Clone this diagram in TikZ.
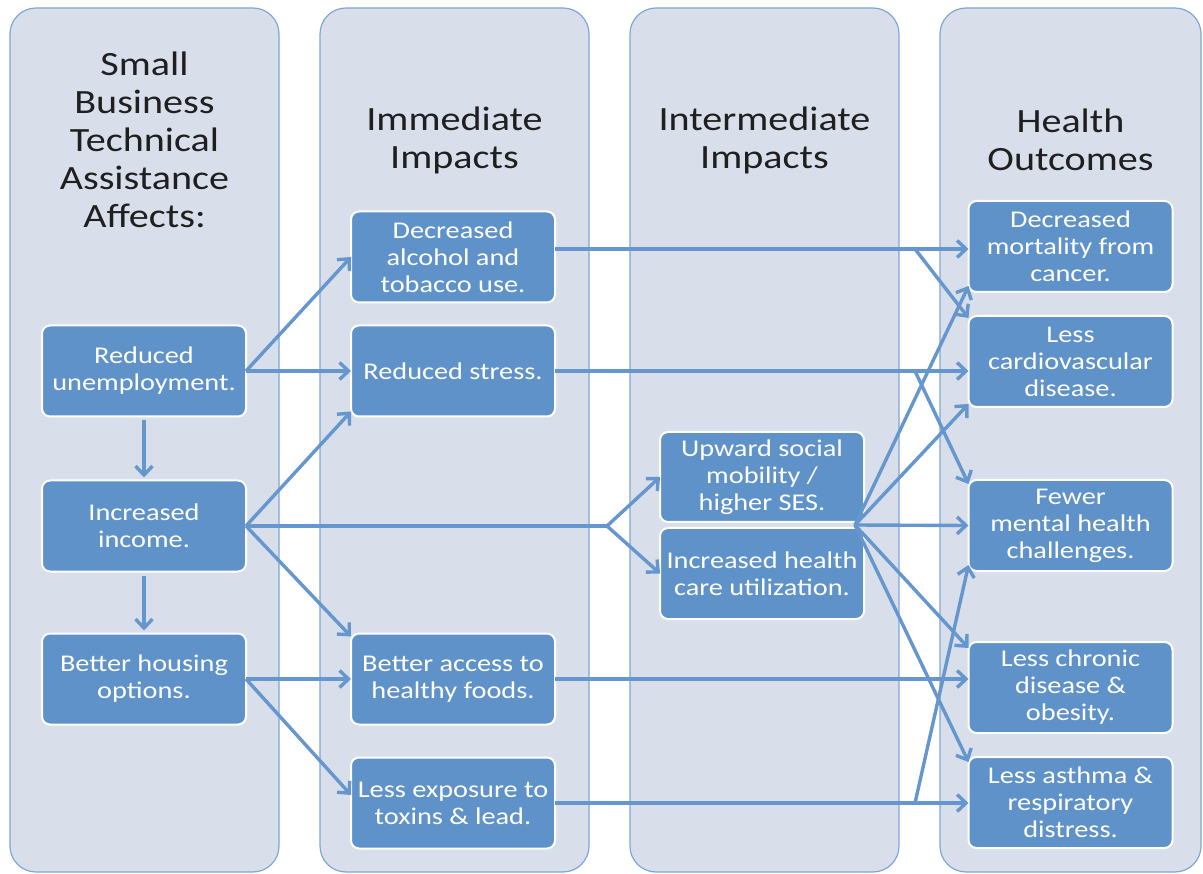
\documentclass[tikz,border=0pt]{standalone}
\usepackage{fontspec}
\setmainfont[FakeStretch=1.18]{Carlito}
\usetikzlibrary{positioning,arrows.meta,calc}
\definecolor{colfill}{RGB}{216,223,235}
\definecolor{colline}{RGB}{126,166,214}
\definecolor{boxfill}{RGB}{94,146,201}
\definecolor{linkblue}{RGB}{101,151,206}
\tikzstyle{column}=[rectangle,rounded corners=26pt,draw=colline,line width=1.2pt,
fill=colfill,minimum width=269pt,minimum height=864pt,inner sep=0pt,outer sep=0pt]
\tikzstyle{heading}=[align=center,text=black!88,font=\fontsize{34}{38}\selectfont]
\tikzstyle{effect}=[rectangle,rounded corners=8pt,draw=white,line width=2pt,
fill=boxfill,text=white,align=center,minimum width=204pt,minimum height=91pt,
inner sep=0pt,outer sep=0pt,font=\fontsize{24}{27}\selectfont]
\tikzstyle{link}=[color=linkblue,line width=3.4pt,-{Straight Barb[length=9pt,width=17pt]}]

\begin{document}
\begin{tikzpicture}[x=1pt,y=-1pt]
            \useasboundingbox (0,0) rectangle (1203,874);

            % COLUMNS

            \node[column] (colA) at (144.5,440) {};
            \node[column,right=41pt of colA] (colB) {};
            \node[column,right=41pt of colB] (colC) {};
            \node[column,minimum width=261pt,right=41pt of colC] (colD) {};

            \node[heading] (headA) at ([yshift=-132pt]colA.north) {Small\\Business\\Technical\\Assistance\\Affects:};
            \node[heading] (headB) at ([yshift=-132pt]colB.north) {Immediate\\Impacts};
            \node[heading] (headC) at ([yshift=-132pt]colC.north) {Intermediate\\Impacts};
            \node[heading] (headD) at ([yshift=-132pt]colD.north) {Health\\Outcomes};

            % AFFECTS PART

            \node[effect] (unemp) at (144,371) {Reduced\\unemployment.};
            \node[effect,below=64pt of unemp] (income) {Increased\\income.};
            \node[effect,below=62pt of income] (housing) {Better housing\\options.};

            % IMMEDIATE PART

            \node[effect,right=105pt of unemp] (stress) {Reduced stress.};
            \node[effect,above=23pt of stress] (alcohol) {Decreased\\alcohol and\\tobacco use.};
            \node[effect,right=105pt of housing] (food) {Better access to\\healthy foods.};
            \node[effect,below=33pt of food] (toxins) {Less exposure to\\toxins \& lead.};

            % INTERMEDIATE PART

            \node[effect,minimum height=90pt] (ses) at (762,477) {Upward social\\mobility /\\higher SES.};
            \node[effect,below=6pt of ses] (care) {Increased health\\care utilization.};

            % OUTCOMES PART

            \node[effect] (mortality) at (1070.5,246.5) {Decreased\\mortality from\\cancer.};
            \node[effect,below=24pt of mortality] (cardio) {Less\\cardiovascular\\disease.};
            \node[effect,below=73pt of cardio] (mental) {Fewer\\mental health\\challenges.};
            \node[effect,below=71pt of mental] (chronic) {Less chronic\\disease \&\\obesity.};
            \node[effect,below=24pt of chronic] (asthma) {Less asthma \&\\respiratory\\distress.};

            \coordinate (fork) at (607,0);
            \coordinate (cross) at (915,0);
            \coordinate (hub) at ($(ses.south east)!0.5!(care.north east)+(-9,0)$);
            \coordinate (outA) at ([yshift=8pt]alcohol.east);

            % Links from the affects

            \path[link] (unemp.east) edge (alcohol.west);
            \path[link] (unemp.east) edge (stress.west);
            \path[link,shorten <=4pt,shorten >=3pt] (unemp.south) edge (income.north);
            \path[link] (income.east) edge ([yshift=5pt]stress.south west);
            \path[link] (income.east) edge ([yshift=-3pt]food.north west);
            \path[link,shorten <=4pt,shorten >=3pt] (income.south) edge (housing.north);
            \draw[link,-] (income.east) -- (income.east -| fork);
            \path[link] (income.east -| fork) edge (ses.west) edge (care.west);
            \path[link] (housing.east) edge (food.west);
            \path[link] (housing.east) edge ([yshift=8pt]toxins.west);

            % Links to the outcomes

            \path[link] (outA) edge (outA -| mortality.west);
            \path[link] (outA -| cross) edge ([yshift=-2pt]cardio.north west);
            \path[link] (stress.east) edge (stress.east -| cardio.west);
            \path[link] (stress.east -| cross) edge ([yshift=-4pt]mental.north west);
            \path[link] (hub) edge ([yshift=6pt]mortality.south west)
                              edge ([yshift=3pt]cardio.south west)
                              edge (mental.west)
                              edge ([yshift=-6pt]chronic.north west)
                              edge ([yshift=-5pt]asthma.north west);
            \path[link] (food.east) edge (food.east -| chronic.west);
            \path[link] (toxins.east) edge (toxins.east -| asthma.west);
            \path[link] (toxins.east -| cross) edge ([yshift=6pt]mental.south west);

\end{tikzpicture}
\end{document}
